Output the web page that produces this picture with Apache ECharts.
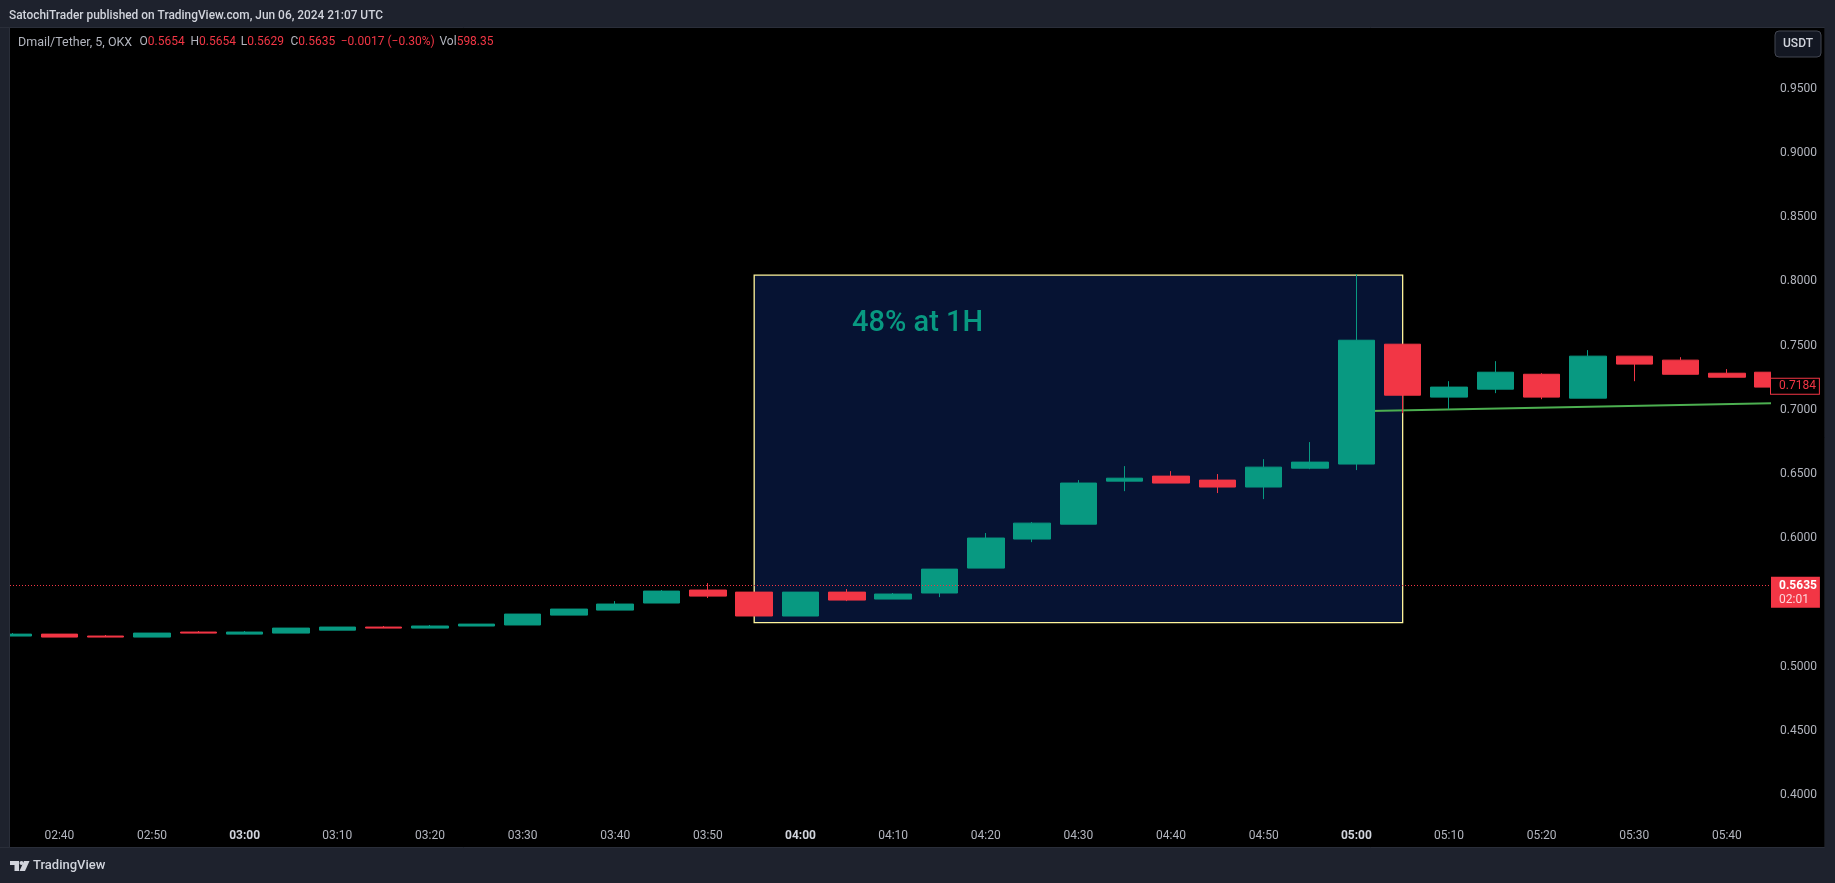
<!DOCTYPE html>
<html>
<head>
<meta charset="utf-8">
<title>Dmail/Tether</title>
<style>
html, body { margin: 0; padding: 0; background: #1e222d; }
#chart { width: 1835px; height: 883px; }
</style>
<script src="https://cdn.jsdelivr.net/npm/echarts@6/dist/echarts.min.js"></script>
</head>
<body>
<div id="chart"></div>
<script>
// candle times, minutes after 00:00
const times = [155, 160, 165, 170, 175, 180, 185, 190, 195, 200, 205, 210, 215, 220, 225, 230, 235, 240, 245, 250, 255, 260, 265, 270, 275, 280, 285, 290, 295, 300, 305, 310, 315, 320, 325, 330, 335, 340, 345];
const opens = [0.5239, 0.5254, 0.5239, 0.5231, 0.5270, 0.5254, 0.5262, 0.5285, 0.5309, 0.5301, 0.5317, 0.5325, 0.5402, 0.5441, 0.5496, 0.5597, 0.5581, 0.5395, 0.5581, 0.5527, 0.5574, 0.5768, 0.5994, 0.6110, 0.6445, 0.6484, 0.6453, 0.6399, 0.6546, 0.6578, 0.7511, 0.7099, 0.7161, 0.7277, 0.7091, 0.7418, 0.7387, 0.7285, 0.7293];
const closes = [0.5254, 0.5231, 0.5231, 0.5262, 0.5262, 0.5270, 0.5301, 0.5309, 0.5301, 0.5317, 0.5332, 0.5410, 0.5449, 0.5488, 0.5589, 0.5550, 0.5395, 0.5581, 0.5519, 0.5566, 0.5760, 0.6002, 0.6118, 0.6430, 0.6468, 0.6430, 0.6399, 0.6554, 0.6593, 0.7542, 0.7114, 0.7177, 0.7293, 0.7099, 0.7418, 0.7356, 0.7277, 0.7254, 0.7177];
const lows = [0.5239, 0.5231, 0.5231, 0.5231, 0.5262, 0.5254, 0.5262, 0.5285, 0.5301, 0.5301, 0.5317, 0.5325, 0.5402, 0.5441, 0.5496, 0.5535, 0.5395, 0.5395, 0.5511, 0.5527, 0.5542, 0.5768, 0.5970, 0.6110, 0.6367, 0.6430, 0.6352, 0.6305, 0.6538, 0.6531, 0.6974, 0.7005, 0.7130, 0.7083, 0.7091, 0.7223, 0.7277, 0.7254, 0.7177];
const highs = [0.5262, 0.5254, 0.5247, 0.5262, 0.5278, 0.5278, 0.5301, 0.5309, 0.5317, 0.5325, 0.5332, 0.5410, 0.5449, 0.5511, 0.5597, 0.5651, 0.5581, 0.5581, 0.5605, 0.5574, 0.5760, 0.6041, 0.6126, 0.6453, 0.6562, 0.6523, 0.6500, 0.6616, 0.6749, 0.8056, 0.7511, 0.7223, 0.7379, 0.7285, 0.7465, 0.7418, 0.7410, 0.7317, 0.7293];

// axis ticks
const timeTicks = [160, 170, 180, 190, 200, 210, 220, 230, 240, 250, 260, 270, 280, 290, 300, 310, 320, 330, 340];
const timeLabels = ['02:40', '02:50', '03:00', '03:10', '03:20', '03:30', '03:40', '03:50', '04:00', '04:10', '04:20', '04:30', '04:40', '04:50', '05:00', '05:10', '05:20', '05:30', '05:40'];
const boldLabels = ['03:00', '04:00', '05:00'];
const priceTicks = [0.40, 0.45, 0.50, 0.60, 0.65, 0.70, 0.75, 0.80, 0.85, 0.90, 0.95];

// drawings on the chart
const boxTimes = [235, 305];
const boxPrices = [0.8048, 0.5344];
const trendTimes = [300, 344.76];
const trendPrices = [0.699, 0.7052];
const lastPrice = 0.5635;
const prevPrice = 0.7184;

const uiFont = 'Roboto, "Liberation Sans", sans-serif';
const upColor = '#089981';
const downColor = '#f23645';
const panelColor = '#1e222d';

var myChart = echarts.init(document.getElementById('chart'));

const candleData = times.map((t, i) => [t, opens[i], closes[i], lows[i], highs[i]]);

// the legend row, one piece per group so the gaps follow the reference
const legendRich = {
	n: { fontFamily: uiFont, fontSize: 12, fill: '#b2b5be' },
	t: { fontFamily: uiFont, fontSize: 12.5, fill: '#b2b5be' },
	v: { fontFamily: uiFont, fontSize: 12, fill: downColor }
};
function legendPiece(x, text) {
	return { type: 'text', x: x, y: 36, z: 10, style: { text: text, rich: legendRich } };
}

var option = {
	animation: false,
	backgroundColor: panelColor,
	grid: { left: 10, right: 64, top: 28.6, bottom: 35.4 },
	xAxis: {
		type: 'value',
		min: 154.67,
		max: 344.76,
		axisLine: { show: false },
		axisTick: { show: false },
		splitLine: { show: false },
		axisLabel: {
			inside: true,
			margin: 6,
			customValues: timeTicks,
			fontFamily: uiFont,
			fontSize: 12,
			color: '#b2b5be',
			formatter: (v) => {
				const label = timeLabels[timeTicks.indexOf(v)];
				return boldLabels.includes(label) ? `{b|${label}}` : label;
			},
			rich: { b: { fontFamily: uiFont, fontSize: 12, fontWeight: 'bold', color: '#d1d4dc' } }
		}
	},
	yAxis: {
		type: 'value',
		position: 'right',
		z: 4,
		min: 0.3592,
		max: 0.9968,
		axisLine: { show: false },
		axisTick: { show: false },
		splitLine: { show: false },
		axisLabel: {
			margin: 9,
			customValues: priceTicks,
			fontFamily: uiFont,
			fontSize: 12,
			color: '#b2b5be',
			formatter: (v) => v.toFixed(4)
		}
	},
	series: [
		{
			type: 'line',
			z: 1,
			symbol: 'none',
			data: trendTimes.map((t, i) => [t, trendPrices[i]]),
			lineStyle: { color: '#4caf50', width: 2 },
			markLine: {
				silent: true,
				symbol: 'none',
				precision: 4,
				animation: false,
				data: [
					{
						yAxis: lastPrice,
						lineStyle: { color: downColor, type: [1, 2], width: 1 },
						label: {
							position: 'end',
							distance: 0,
							offset: [0, 7],
							formatter: '{a|0.5635}\n{c|02:01}',
							backgroundColor: downColor,
							padding: [2, 3, 1, 8],
							rich: {
								a: { fontFamily: uiFont, fontSize: 12, fontWeight: 'bold', color: '#ffffff', lineHeight: 14 },
								c: { fontFamily: uiFont, fontSize: 12, color: '#ffffffcc', lineHeight: 14 }
							}
						}
					},
					{
						yAxis: prevPrice,
						lineStyle: { width: 0, color: 'transparent' },
						label: {
							position: 'end',
							distance: 0,
							formatter: '0.7184',
							fontFamily: uiFont,
							fontSize: 12,
							color: downColor,
							backgroundColor: '#000000',
							borderColor: downColor,
							borderWidth: 1,
							padding: [2, 3, 1, 8]
						}
					}
				]
			}
		},
		{
			type: 'candlestick',
			z: 2,
			barWidth: 37,
			data: candleData,
			itemStyle: {
				color: upColor,
				color0: downColor,
				borderColor: upColor,
				borderColor0: downColor,
				borderWidth: 1
			},
			markArea: {
				z: 0,
				silent: true,
				precision: 4,
				itemStyle: { color: '#061333', borderColor: '#fff59d', borderWidth: 1.3 },
				data: [[
					{ xAxis: boxTimes[0], yAxis: boxPrices[0] },
					{ xAxis: boxTimes[1], yAxis: boxPrices[1] }
				]]
			}
		}
	],
	graphic: [
		// plot background and frame
		{ type: 'rect', z: -10, shape: { x: 9.5, y: 27.5, width: 1815, height: 820 }, style: { fill: '#000000', stroke: '#2a2e39', lineWidth: 1 } },
		// candles are not clipped by the grid, so cover what sticks out at both ends
		{ type: 'rect', z: 3, shape: { x: -1, y: 27.5, width: 10.5, height: 820 }, style: { fill: panelColor, stroke: '#2a2e39', lineWidth: 1 } },
		{ type: 'rect', z: 3, shape: { x: 1771, y: 28, width: 53.5, height: 819 }, style: { fill: '#000000' } },
		// header
		{ type: 'text', x: 9, y: 10, z: 10, style: { text: 'SatochiTrader published on TradingView.com, Jun 06, 2024 21:07 UTC', fontFamily: uiFont, fontSize: 11.9, fontWeight: 500, fill: '#d1d4dc' } },
		legendPiece(18, '{t|Dmail/Tether, 5, OKX}'),
		legendPiece(139.5, '{n|O}{v|0.5654}'),
		legendPiece(190.5, '{n|H}{v|0.5654}'),
		legendPiece(240.7, '{n|L}{v|0.5629}'),
		legendPiece(290.5, '{n|C}{v|0.5635}'),
		legendPiece(340.7, '{v|−0.0017 (−0.30%)}'),
		legendPiece(439.5, '{n|Vol}{v|598.35}'),
		// note inside the box
		{ type: 'text', x: 852, y: 309, z: 10, style: { text: '48% at 1H', fontFamily: uiFont, fontSize: 29, fontWeight: 500, fill: upColor } },
		// currency button
		{ type: 'rect', z: 10, shape: { x: 1775, y: 31, width: 46, height: 26, r: 4 }, style: { fill: '#131722', stroke: '#434651', lineWidth: 1 } },
		{ type: 'text', x: 1798, y: 44, z: 11, style: { text: 'USDT', align: 'center', verticalAlign: 'middle', fontFamily: uiFont, fontSize: 12, fontWeight: 500, fill: '#d1d4dc' } },
		// footer logo
		{ type: 'polygon', z: 10, shape: { points: [[10, 861], [19, 861], [19, 871], [14.5, 871], [14.5, 865], [10, 865]] }, style: { fill: '#d1d4dc' } },
		{ type: 'circle', z: 10, shape: { cx: 21.5, cy: 863, r: 2 }, style: { fill: '#d1d4dc' } },
		{ type: 'polygon', z: 10, shape: { points: [[24, 861], [29.5, 861], [25, 871], [19.5, 871]] }, style: { fill: '#d1d4dc' } },
		{ type: 'text', x: 33, y: 859, z: 10, style: { text: 'TradingView', fontFamily: uiFont, fontSize: 13, fontWeight: 500, fill: '#d1d4dc' } }
	]
};

myChart.setOption(option);
</script>
</body>
</html>
